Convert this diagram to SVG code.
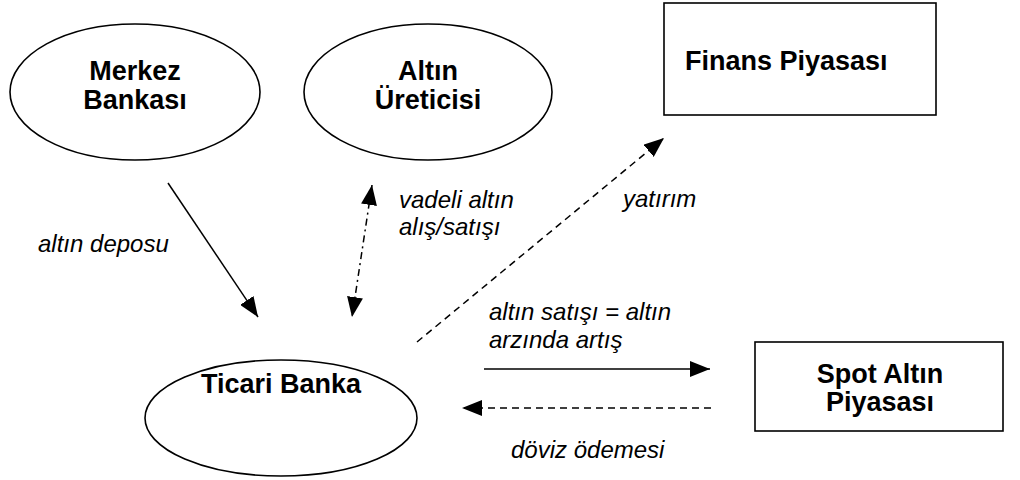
<svg xmlns="http://www.w3.org/2000/svg" width="1020" height="480" viewBox="0 0 1020 480">
<style>
  .shape { fill: #ffffff; stroke: #000000; stroke-width: 1.6; }
  .node { font-family: "Liberation Sans", Arial, sans-serif; font-weight: bold; font-size: 27px; fill: #000000; }
  .lbl { font-family: "Liberation Sans", Arial, sans-serif; font-style: italic; font-size: 24px; fill: #000000; }
  .conn { fill: none; stroke: #000000; stroke-width: 1.5; }
  .dash { stroke-dasharray: 7 5; }
  .dashdot { stroke-dasharray: 7 4 2 4; }
</style>
<defs>
  <marker id="arrow" viewBox="0 0 20 16" refX="20" refY="8" markerWidth="20" markerHeight="16" markerUnits="userSpaceOnUse" orient="auto-start-reverse">
    <path d="M0,0 L20,8 L0,16 Z" fill="#000000"/>
  </marker>
</defs>
<rect width="1020" height="480" fill="#ffffff"/>

<g id="merkez-bankasi">
  <ellipse class="shape" cx="135" cy="92" rx="125" ry="68"/>
  <text class="node" x="135" y="80" text-anchor="middle">Merkez</text>
  <text class="node" x="135" y="109" text-anchor="middle">Bankası</text>
</g>

<g id="altin-ureticisi">
  <ellipse class="shape" cx="428" cy="92" rx="124" ry="68"/>
  <text class="node" x="428" y="80" text-anchor="middle">Altın</text>
  <text class="node" x="428" y="109" text-anchor="middle">Üreticisi</text>
</g>

<g id="finans-piyasasi">
  <rect class="shape" x="664" y="3" width="272" height="112"/>
  <text class="node" x="685" y="70">Finans Piyasası</text>
</g>

<g id="ticari-banka">
  <ellipse class="shape" cx="281" cy="418" rx="136" ry="58"/>
  <text class="node" x="281" y="393" text-anchor="middle">Ticari Banka</text>
</g>

<g id="spot-altin-piyasasi">
  <rect class="shape" x="755" y="342" width="248" height="89"/>
  <text class="node" x="880" y="383" text-anchor="middle">Spot Altın</text>
  <text class="node" x="880" y="411" text-anchor="middle">Piyasası</text>
</g>

<g id="connectors">
  <line class="conn" x1="168" y1="183" x2="258" y2="317" marker-end="url(#arrow)"/>
  <line class="conn dashdot" x1="372" y1="185" x2="352" y2="317" marker-start="url(#arrow)" marker-end="url(#arrow)"/>
  <line class="conn dash" x1="417" y1="342" x2="664" y2="138" marker-end="url(#arrow)"/>
  <line class="conn" x1="484" y1="369" x2="710" y2="369" marker-end="url(#arrow)"/>
  <line class="conn dash" x1="711" y1="408" x2="462" y2="408" marker-end="url(#arrow)"/>
</g>

<g id="labels">
  <text class="lbl" x="38" y="252">altın deposu</text>
  <text class="lbl" x="399" y="208">vadeli altın</text>
  <text class="lbl" x="399" y="235">alış/satışı</text>
  <text class="lbl" x="623" y="207">yatırım</text>
  <text class="lbl" x="489" y="320">altın satışı = altın</text>
  <text class="lbl" x="489" y="348">arzında artış</text>
  <text class="lbl" x="511" y="458">döviz ödemesi</text>
</g>
</svg>
